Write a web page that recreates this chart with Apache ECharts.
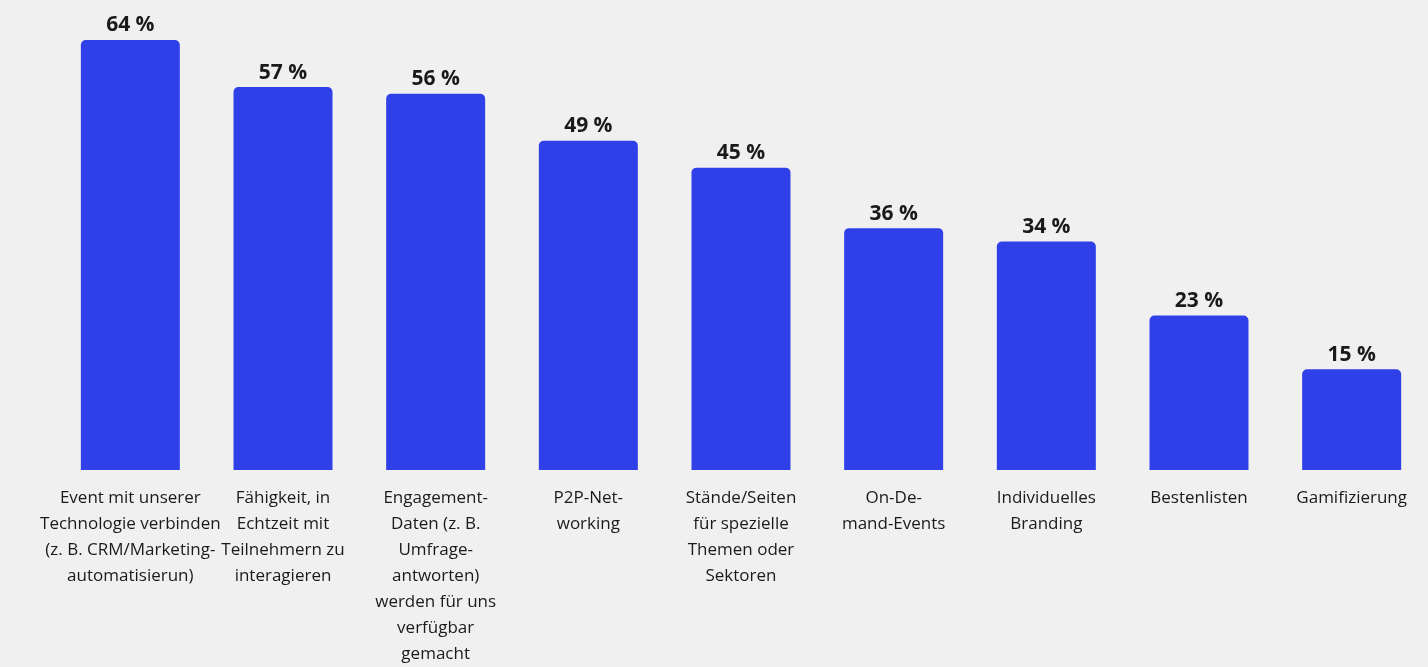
<!DOCTYPE html>
<html>
<head>
<meta charset="utf-8">
<script src="https://cdn.jsdelivr.net/npm/echarts@6/dist/echarts.min.js"></script>
<style>
html,body{margin:0;padding:0;background:#f0f0f0;}
#chart{width:1428px;height:667px;}
</style>
</head>
<body>
<div id="chart"></div>
<script>
const categories = [
  "Event mit unserer\nTechnologie verbinden\n(z. B. CRM/Marketing-\nautomatisierun)",
  "Fähigkeit, in\nEchtzeit mit\nTeilnehmern zu\ninteragieren",
  "Engagement-\nDaten (z. B.\nUmfrage-\nantworten)\nwerden für uns\nverfügbar\ngemacht",
  "P2P-Net-\nworking",
  "Stände/Seiten\nfür spezielle\nThemen oder\nSektoren",
  "On-De-\nmand-Events",
  "Individuelles\nBranding",
  "Bestenlisten",
  "Gamifizierung"
];
const values = [64, 57, 56, 49, 45, 36, 34, 23, 15];

const FONT = '"Open Sans", "Noto Sans", sans-serif';
const chart = echarts.init(document.getElementById('chart'), null, {renderer: 'canvas'});
chart.setOption({
  backgroundColor: '#f0f0f0',
  animation: false,
  grid: {left: 54, width: 1383, top: 40, bottom: 197, containLabel: false},
  xAxis: {
    type: 'category',
    data: categories,
    axisLine: {show: false},
    axisTick: {show: false},
    axisLabel: {
      interval: 0,
      margin: 15,
      fontFamily: FONT,
      fontSize: 17,
      lineHeight: 26,
      color: '#1a1a1a',
      align: 'center'
    }
  },
  yAxis: {
    type: 'value',
    min: 0,
    max: 64,
    show: false,
    splitLine: {show: false}
  },
  series: [{
    type: 'bar',
    data: values,
    barWidth: 99,
    itemStyle: {color: '#3040e8', borderRadius: [5, 5, 0, 0]},
    label: {
      show: true,
      position: 'top',
      distance: 4,
      formatter: p => p.value + ' %',
      fontFamily: FONT,
      fontWeight: 'bold',
      fontSize: 21,
      color: '#1a1a1a'
    }
  }]
});
</script>
</body>
</html>
